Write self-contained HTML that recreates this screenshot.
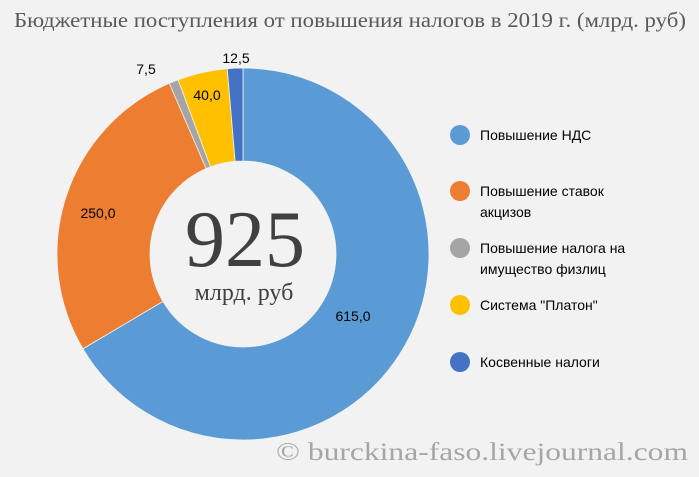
<!DOCTYPE html><html><head><meta charset="utf-8"><style>body{margin:0;background:#f2f2f2}svg{display:block}</style></head><body>
<svg width="699" height="477" xmlns="http://www.w3.org/2000/svg">
<rect width="699" height="477" fill="#f2f2f2"/>
<text x="14" y="27" textLength="672" lengthAdjust="spacingAndGlyphs" font-family="Liberation Serif, serif" font-size="21" fill="#595959">Бюджетные поступления от повышения налогов в 2019 г. (млрд. руб)</text>
<g stroke="#f2f2f2" stroke-width="0.8">
<path d="M243,68 A186,186 0 1 1 82.95,348.77 L162.97,301.38 A93,93 0 1 0 243,161 Z" fill="#5b9bd5"/>
<path d="M82.95,348.77 A186,186 0 0 1 169.29,83.23 L206.14,168.62 A93,93 0 0 0 162.97,301.38 Z" fill="#ed7d31"/>
<path d="M169.29,83.23 A186,186 0 0 1 178.07,79.70 L210.53,166.85 A93,93 0 0 0 206.14,168.62 Z" fill="#a5a5a5"/>
<path d="M178.07,79.70 A186,186 0 0 1 227.25,68.67 L235.12,161.33 A93,93 0 0 0 210.53,166.85 Z" fill="#ffc000"/>
<path d="M227.25,68.67 A186,186 0 0 1 243,68 L243,161 A93,93 0 0 0 235.12,161.33 Z" fill="#4472c4"/>
</g>
<g font-family="Liberation Sans, sans-serif" font-size="14" fill="#000">
<text x="353" y="321" text-anchor="middle">615,0</text>
<text x="98" y="218" text-anchor="middle">250,0</text>
<text x="146" y="74" text-anchor="middle">7,5</text>
<text x="207" y="100" text-anchor="middle">40,0</text>
<text x="236" y="63" text-anchor="middle">12,5</text>
</g>
<text x="245" y="266" text-anchor="middle" font-family="Liberation Serif, serif" font-size="80" fill="#404040">925</text>
<text x="244" y="300" text-anchor="middle" font-family="Liberation Serif, serif" font-size="24" fill="#404040">млрд. руб</text>
<g font-family="Liberation Sans, sans-serif" font-size="14" fill="#000">
<circle cx="460" cy="135" r="10" fill="#5b9bd5"/><text x="480" y="140">Повышение НДС</text>
<circle cx="460" cy="191" r="10" fill="#ed7d31"/><text x="480" y="196">Повышение ставок</text><text x="480" y="217">акцизов</text>
<circle cx="460" cy="248" r="10" fill="#a5a5a5"/><text x="480" y="253">Повышение налога на</text><text x="480" y="274">имущество физлиц</text>
<circle cx="460" cy="305" r="10" fill="#ffc000"/><text x="480" y="310">Система "Платон"</text>
<circle cx="460" cy="362" r="10" fill="#4472c4"/><text x="480" y="367">Косвенные налоги</text>
</g>
<text x="276" y="460" textLength="412" lengthAdjust="spacingAndGlyphs" font-family="Liberation Serif, serif" font-size="25" fill="#a6a6a6">© burckina-faso.livejournal.com</text>
</svg></body></html>
